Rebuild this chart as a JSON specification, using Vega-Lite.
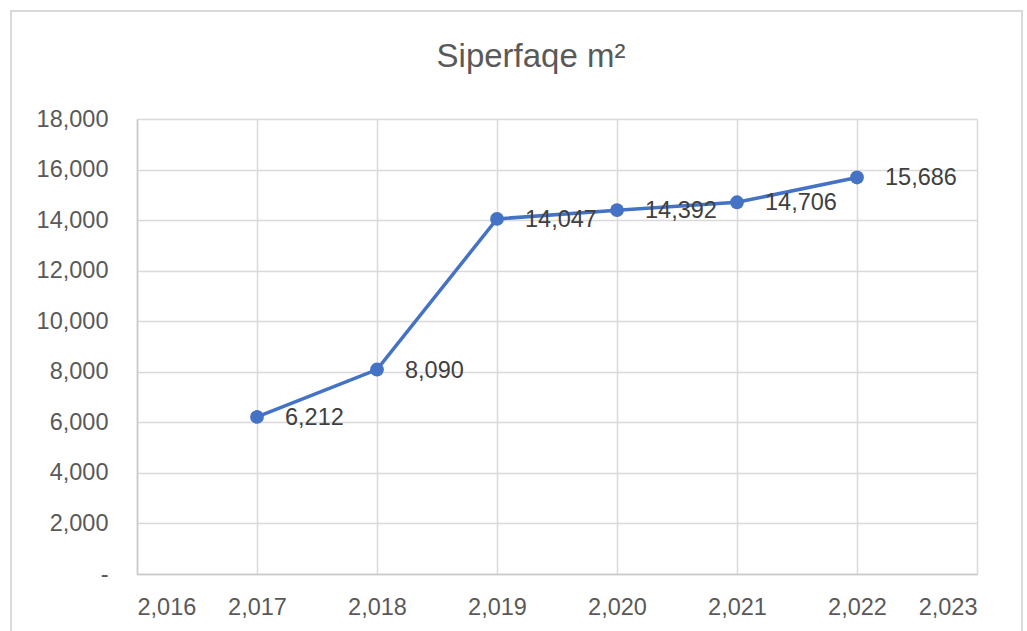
{
  "$schema": "https://vega.github.io/schema/vega-lite/v6.json",
  "autosize": "none",
  "width": 840,
  "height": 455,
  "padding": {"left": 137, "top": 119, "right": 50, "bottom": 57},
  "background": "white",
  "config": {"view": {"stroke": null}},
  "title": {
    "text": "Siperfaqe m²",
    "font": "Liberation Sans",
    "fontSize": 33,
    "fontWeight": "normal",
    "color": "#595959",
    "anchor": "middle",
    "baseline": "alphabetic",
    "dx": -26,
    "offset": -90
  },
  "data": {
    "values": [
      {"year": 2017, "value": 6212},
      {"year": 2018, "value": 8090},
      {"year": 2019, "value": 14047},
      {"year": 2020, "value": 14392},
      {"year": 2021, "value": 14706},
      {"year": 2022, "value": 15686}
    ]
  },
  "encoding": {
    "x": {
      "field": "year",
      "type": "quantitative",
      "scale": {"domain": [2016, 2023], "nice": false, "zero": false},
      "axis": {
        "title": null,
        "values": [2016, 2017, 2018, 2019, 2020, 2021, 2022, 2023],
        "format": ",",
        "ticks": false,
        "labelPadding": 21,
        "labelFont": "Liberation Sans",
        "labelFontSize": 23.5,
        "labelColor": "#595959",
        "domainColor": "#c8c8c8",
        "domainWidth": 1.5,
        "gridColor": "#d9d9d9",
        "gridWidth": 1.5
      }
    },
    "y": {
      "field": "value",
      "type": "quantitative",
      "scale": {"domain": [0, 18000], "nice": false},
      "axis": {
        "title": null,
        "values": [0, 2000, 4000, 6000, 8000, 10000, 12000, 14000, 16000, 18000],
        "labelExpr": "datum.value == 0 ? '-\u2002\u2009' : format(datum.value, ',')",
        "ticks": false,
        "labelPadding": 29,
        "labelFont": "Liberation Sans",
        "labelFontSize": 23.5,
        "labelColor": "#595959",
        "domainColor": "#c8c8c8",
        "domainWidth": 1.5,
        "gridColor": "#d9d9d9",
        "gridWidth": 1.5
      }
    }
  },
  "layer": [
    {
      "mark": {"type": "rect", "fill": null, "stroke": "#d9d9d9", "strokeWidth": 2, "clip": false},
      "encoding": {
        "x": {"datum": 2014.95},
        "x2": {"datum": 2023.375},
        "y": {"datum": 22272},
        "y2": {"datum": -2611}
      }
    },
    {
      "mark": {"type": "line", "color": "#4472C4", "strokeWidth": 3.5}
    },
    {
      "mark": {"type": "point", "filled": true, "color": "#4472C4", "size": 190, "opacity": 1}
    },
    {
      "mark": {"type": "text", "align": "left", "baseline": "middle", "dx": 28, "dy": 1, "font": "Liberation Sans", "fontSize": 23.5, "color": "#404040"},
      "encoding": {
        "text": {"field": "value", "type": "quantitative", "format": ","}
      }
    }
  ]
}
